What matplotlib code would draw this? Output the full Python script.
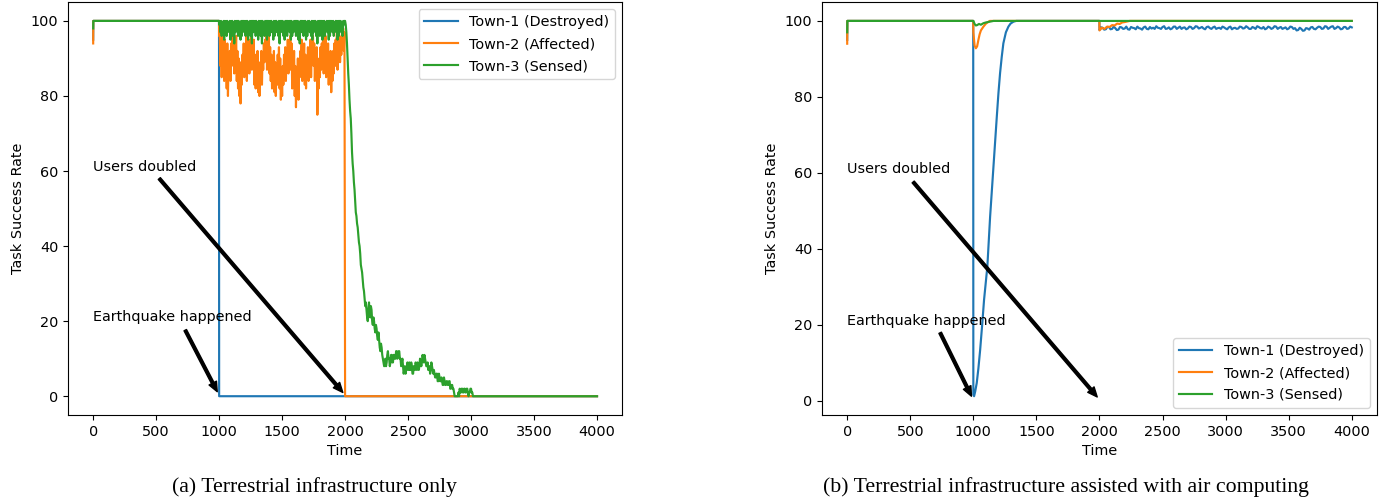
import numpy as np
import matplotlib
matplotlib.use("Agg")
import matplotlib.pyplot as plt

plt.rcParams["font.size"] = 10.4
plt.rcParams["lines.linewidth"] = 1.55
plt.rcParams["legend.handlelength"] = 2.3
plt.rcParams["legend.labelspacing"] = 0.55

# ---------------- data ----------------
labels = ["Town-1 (Destroyed)", "Town-2 (Affected)", "Town-3 (Sensed)"]
captions = ["(a) Terrestrial infrastructure only",
            "(b) Terrestrial infrastructure assisted with air computing"]
xticks = [0, 500, 1000, 1500, 2000, 2500, 3000, 3500, 4000]
yticks = [0, 20, 40, 60, 80, 100]

# (a) Terrestrial only
a_blue_t = [0, 1, 999, 1000, 4000]
a_blue_v = [95, 100, 100, 0, 0]

# Town-2 between 1000 and 2000: samples at 1000,1010,... (lower) and 1005,1015,... (upper)
a_orange_noise = [96, 88, 85, 90, 84, 88, 82, 80, 86, 84,
                  88, 91, 86, 90, 84, 82, 80, 78, 83, 87,
                  85, 89, 84, 88, 86, 90, 87, 89, 83, 82,
                  84, 81, 80, 85, 83, 87, 89, 92, 87, 90,
                  86, 84, 82, 85, 81, 80, 83, 85, 82, 79,
                  80, 83, 86, 84, 89, 86, 90, 87, 82, 84,
                  80, 77, 82, 79, 85, 88, 84, 87, 83, 82,
                  86, 84, 88, 85, 90, 88, 84, 86, 75, 82,
                  85, 87, 89, 86, 90, 85, 87, 83, 85, 81,
                  84, 86, 88, 92, 87, 90, 89, 91, 94, 92]
a_orange_upper = [97, 94, 96, 93, 95, 92, 94, 90, 92, 94,
                  95, 97, 93, 96, 92, 90, 89, 86, 91, 94,
                  93, 96, 92, 95, 93, 96, 94, 95, 91, 90,
                  92, 89, 88, 92, 91, 94, 95, 97, 94, 96,
                  93, 91, 90, 92, 89, 88, 91, 93, 90, 87,
                  88, 91, 93, 92, 95, 93, 96, 94, 90, 92,
                  88, 86, 90, 87, 92, 95, 91, 94, 91, 90,
                  93, 92, 95, 92, 96, 94, 91, 93, 86, 90,
                  93, 94, 96, 93, 96, 92, 94, 90, 92, 89,
                  92, 94, 95, 97, 94, 96, 95, 97, 98, 97]
# Town-3 between 1000 and 2000
a_green_noise = [99, 97, 96, 98, 95, 97, 96, 98, 97, 95,
                 98, 96, 94, 97, 98, 96, 97, 95, 96, 98,
                 97, 96, 98, 95, 97, 96, 94, 97, 98, 96,
                 97, 95, 98, 96, 94, 97, 96, 98, 95, 97,
                 96, 98, 97, 95, 96, 98, 97, 96, 94, 97,
                 98, 96, 95, 97, 96, 98, 97, 95, 96, 97,
                 98, 96, 97, 95, 94, 97, 98, 96, 97, 95,
                 96, 98, 97, 96, 95, 97, 98, 96, 94, 97,
                 96, 98, 95, 97, 96, 98, 97, 95, 96, 98,
                 97, 96, 98, 97, 95, 96, 98, 97, 96, 99]
a_green_upper = [100, 100, 99, 100, 100, 100, 100, 99, 100, 100,
                 100, 99, 100, 100, 100, 100, 99, 100, 100, 100,
                 100, 100, 100, 99, 100, 100, 100, 100, 100, 100,
                 99, 100, 100, 100, 100, 99, 100, 100, 100, 100,
                 100, 100, 99, 100, 100, 100, 99, 100, 100, 100,
                 100, 99, 100, 100, 100, 100, 100, 100, 99, 100,
                 100, 100, 100, 99, 100, 100, 100, 100, 100, 99,
                 100, 100, 99, 100, 100, 100, 100, 99, 100, 100,
                 100, 100, 100, 100, 99, 100, 100, 100, 100, 100,
                 100, 99, 100, 100, 100, 100, 100, 99, 100, 100]
# Town-3 decay after 2000 (samples at 2000,2010,... and 2005,2015,...)
a_green_decay = [100, 97, 90, 83, 76, 70, 62, 57, 52, 48,
                 45, 41, 38, 34, 31, 28, 24, 23, 20, 25,
                 21, 23, 19, 20, 17, 18, 15, 15, 12, 13,
                 10, 8, 10, 9, 12, 10, 9, 11, 9, 11,
                 10, 12, 11, 12, 10, 9, 8, 7, 6, 7,
                 8, 9, 7, 8, 6, 8, 9, 7, 8, 8,
                 9, 9, 10, 11, 9, 8, 7, 8, 7, 8,
                 6, 6, 5, 6, 4, 5, 4, 4, 3, 4,
                 3, 4, 3, 4, 2, 3, 2, 0, 0, 0,
                 1, 2, 1, 2, 1, 2, 1, 2, 0, 1,
                 2, 1, 0]
a_green_decay2 = [99, 94, 86, 79, 74, 65, 60, 55, 49, 46,
                  43, 40, 35, 33, 29, 26, 25, 21, 23, 22,
                  24, 20, 21, 18, 19, 16, 17, 13, 14, 11,
                  9, 9, 8, 11, 10, 8, 11, 9, 11, 10,
                  12, 10, 12, 10, 8, 10, 6, 8, 7, 9,
                  7, 7, 9, 6, 8, 7, 8, 9, 7, 10,
                  8, 11, 9, 10, 8, 9, 8, 6, 9, 7,
                  7, 5, 6, 4, 6, 4, 5, 3, 5, 3,
                  4, 3, 4, 2, 3, 2, 1, 0, 0, 0,
                  0, 1, 2, 1, 2, 1, 2, 1, 1, 2,
                  1, 0, 0]

# (b) assisted with air computing
b_blue_head_t = [0, 1, 999, 1000, 1006, 1015, 1027, 1040, 1054, 1070, 1085, 1098,
                 1111, 1122, 1133, 1146, 1159, 1172, 1186, 1199, 1212, 1225,
                 1238, 1258, 1278, 1295, 1318, 1340, 1999]
b_blue_head_v = [95, 100, 100, 1.6, 1.2, 2.5, 4.7, 8.5, 13.4, 20, 26.6, 31,
                 35.3, 42, 48.5, 55, 61.7, 68, 74.8, 81, 86.3, 90.5,
                 94.1, 97, 98.5, 99.3, 99.8, 100, 100]
# Town-1 after 2000: samples at 2000,2025,... and 2012.5,2037.5,...
b_blue_noise = [97.6, 98.2, 97.8, 98.4, 97.9, 98.1, 97.7, 98.3, 98.0, 97.8,
                98.4, 98.1, 98.5, 98.0, 98.3, 97.9, 98.4, 98.2, 98.6, 98.1,
                98.4, 97.9, 98.3, 98.0, 98.5, 98.2, 97.9, 98.3, 98.0, 98.4,
                98.1, 98.5, 98.2, 98.0, 98.4, 98.1, 98.3, 97.9, 98.2, 98.5,
                98.0, 98.3, 97.8, 98.2, 98.0, 98.4, 98.1, 98.3, 97.9, 98.2,
                98.6, 98.1, 98.4, 98.0, 98.3, 98.1, 98.5, 98.2, 97.9, 98.3,
                98.0, 98.4, 98.1, 97.6, 97.9, 97.5, 98.0, 98.3, 97.9, 98.2,
                98.4, 98.0, 98.5, 98.2, 98.6, 98.1, 98.3, 97.9, 98.4, 98.0, 98.3]
b_blue_noise2 = [98.3, 97.7, 98.4, 97.8, 98.5, 97.6, 98.4, 97.9, 98.5, 97.7,
                 98.2, 97.8, 98.1, 97.7, 98.5, 97.8, 98.0, 97.9, 98.2, 97.9,
                 98.6, 98.0, 97.8, 98.5, 97.9, 98.5, 98.2, 97.8, 98.5, 97.9,
                 98.6, 98.0, 98.4, 97.8, 98.5, 97.9, 98.5, 98.1, 97.9, 98.3,
                 97.8, 98.5, 98.1, 97.9, 98.5, 98.0, 98.6, 97.9, 98.4, 97.9,
                 98.4, 98.0, 97.8, 98.5, 97.9, 98.6, 97.9, 98.4, 98.1, 97.8,
                 98.5, 97.9, 97.5, 98.2, 97.4, 98.1, 97.7, 98.4, 97.8, 98.5,
                 97.9, 98.6, 97.9, 98.5, 97.9, 98.5, 97.8, 98.4, 97.9, 98.5]

b_orange_t = [0, 1, 999, 1000, 1010, 1020, 1030, 1040, 1050, 1060, 1080, 1100, 1130,
              1999, 2000, 2020, 2040, 2060, 2080, 2100, 2120, 2140, 2160, 2180, 2200,
              2240, 4000]
b_orange_v = [94, 100, 100, 97, 93.5, 92.8, 93.3, 95, 96.5, 97.5, 98.5, 99.3, 100,
              100, 97.5, 98.2, 97.9, 98.5, 98.4, 98.9, 98.8, 99.3, 99.2, 99.6, 99.7,
              100, 100]

b_green_t = [0, 1, 999, 1000, 1010, 1020, 1030, 1045, 1060, 1080, 1100, 1130, 1160, 4000]
b_green_v = [97, 100, 100, 100, 99.2, 98.8, 98.9, 99.2, 99.0, 99.4, 99.6, 99.8, 100, 100]


# ---------------- build series ----------------
def interleave(a, b):
    out = []
    for i, v in enumerate(a):
        out.append(v)
        if i < len(b):
            out.append(b[i])
    return out


orange_mid = interleave(a_orange_noise, a_orange_upper)
green_mid = interleave(a_green_noise, a_green_upper)
green_dec = interleave(a_green_decay, a_green_decay2)
blue_tail = interleave(b_blue_noise, b_blue_noise2)

t_mid = 1000 + 5 * np.arange(len(orange_mid))
t_dec = 2000 + 5 * np.arange(len(green_dec))
t_btail = 2000 + 12.5 * np.arange(len(blue_tail))

a_orange_t = np.concatenate([[0, 1, 999], t_mid, [2000, 4000]])
a_orange_v = np.concatenate([[94, 100, 100], orange_mid, [0, 0]])
a_green_t = np.concatenate([[0, 1, 999], t_mid, t_dec, [4000]])
a_green_v = np.concatenate([[98, 100, 100], green_mid, green_dec, [0]])

b_blue_t = np.concatenate([b_blue_head_t, t_btail])
b_blue_v = np.concatenate([b_blue_head_v, blue_tail])

# ---------------- plot ----------------
fig = plt.figure(figsize=(13.96, 5.01), dpi=100)
ax1 = fig.add_axes([0.0487, 0.1717, 0.397, 0.824])
ax2 = fig.add_axes([0.5888, 0.1717, 0.3976, 0.824])

ax1.plot(a_blue_t, a_blue_v, color="C0", label=labels[0])
ax1.plot(a_orange_t, a_orange_v, color="C1", label=labels[1])
ax1.plot(a_green_t, a_green_v, color="C2", label=labels[2])

ax2.plot(b_blue_t, b_blue_v, color="C0", label=labels[0])
ax2.plot(b_orange_t, b_orange_v, color="C1", label=labels[1])
ax2.plot(b_green_t, b_green_v, color="C2", label=labels[2])

arrow_kw = dict(facecolor="black", edgecolor="black", width=2, headwidth=6,
                headlength=7, shrink=0)

for ax, loc, ud_tail, eq_tail in [
        (ax1, "upper right", (525, 58), (731, 17.6)),
        (ax2, "lower right", (523, 57.6), (737, 17.9))]:
    ax.set_xticks(xticks)
    ax.set_yticks(yticks)
    ax.set_xlabel("Time")
    ax.set_ylabel("Task Success Rate")
    ax.legend(loc=loc)
    ax.text(0, 60, "Users doubled")
    ax.text(0, 20, "Earthquake happened")
    ax.annotate("", xy=(1982, 1), xytext=ud_tail, arrowprops=arrow_kw)
    ax.annotate("", xy=(985, 1.2), xytext=eq_tail, arrowprops=arrow_kw)

serif = ["Liberation Serif", "DejaVu Serif"]
fig.text(314 / 1396, 1 - 487 / 501, captions[0], ha="center", va="center",
         family=serif, fontsize=15.7)
fig.text(1066 / 1396, 1 - 487 / 501, captions[1], ha="center", va="center",
         family=serif, fontsize=15.7)

fig.savefig("out.png", dpi=100)
